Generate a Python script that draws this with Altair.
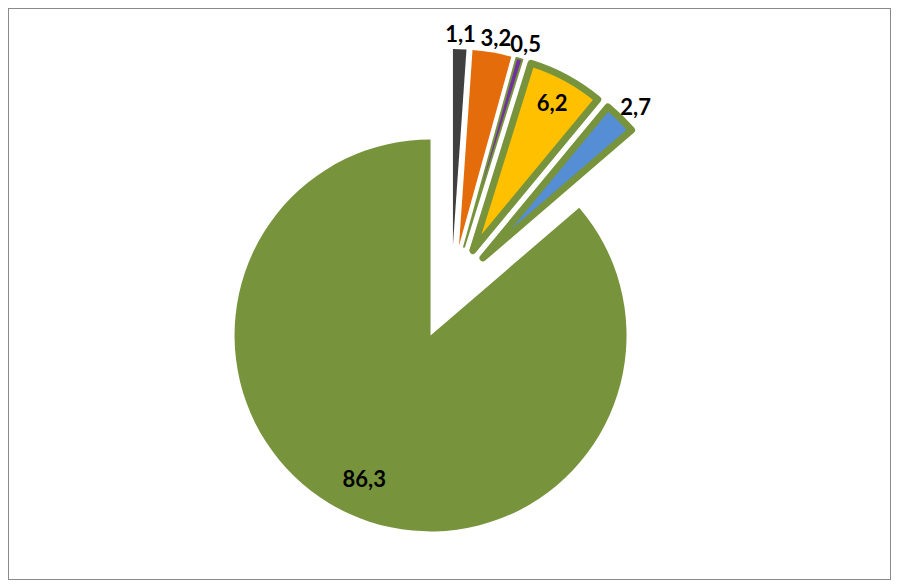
import altair as alt
import pandas as pd

# ---- data ----
labels = ["1,1", "3,2", "0,5", "6,2", "2,7", "86,3"]
values = [1.1, 3.2, 0.5, 6.2, 2.7, 86.3]

# ---- styles ----
colors = ["#404040", "#E46C0A", "#7030A0", "#FFC000", "#558ED5", "#77933C"]
stroke_widths = [0, 0, 2, 7, 7, 0]
OLIVE = "#77933C"

# ---- layout ----
W, H = 883, 572
CX, CY = 443.4, 282.0      # pie centre in plot coordinates
R = 196                    # pie radius
EX_SMALL, EX_BIG = 45, 50  # explosion distances
IN_BIG, IN_SMALL = 0.81 * R, 0.85 * R   # inside label radius
OUT_RX, OUT_RY = R + 22, R + 14         # outside label radii (x, y)

df = pd.DataFrame({"label": labels, "value": values, "idx": list(range(len(values)))})

base = alt.Chart(df).transform_joinaggregate(
    total="sum(value)"
).transform_window(
    cum="sum(value)", sort=[alt.SortField("idx")], frame=[None, 0]
).transform_calculate(
    t1="datum.cum / datum.total * 2 * PI",
    t0="(datum.cum - datum.value) / datum.total * 2 * PI",
    sw=f"{stroke_widths}[datum.idx]",
).transform_calculate(
    mid="(datum.t0 + datum.t1) / 2",
    ex=f"datum.value > 50 ? {EX_BIG} : {EX_SMALL}",
    rx=f"datum.value > 50 ? {IN_BIG} : (datum.value > 5 ? {IN_SMALL} : {OUT_RX})",
    ry=f"datum.value > 50 ? {IN_BIG} : (datum.value > 5 ? {IN_SMALL} : {OUT_RY})",
).transform_calculate(
    cx=f"{CX} + datum.ex * sin(datum.mid)",
    cy=f"{CY} - datum.ex * cos(datum.mid)",
).transform_calculate(
    lx="datum.cx + datum.rx * sin(datum.mid)",
    ly="datum.cy - datum.ry * cos(datum.mid)",
)

arcs = base.mark_arc(radius=R, stroke=OLIVE, strokeJoin="round").encode(
    x=alt.X("cx:Q", scale=None),
    y=alt.Y("cy:Q", scale=None),
    theta=alt.Theta("t0:Q", scale=None),
    theta2=alt.Theta2("t1:Q"),
    color=alt.Color("label:N", scale=alt.Scale(domain=labels, range=colors), legend=None),
    strokeWidth=alt.StrokeWidth("sw:Q", scale=None, legend=None),
)

texts = base.mark_text(
    font="Lato", fontWeight="bold", fontSize=22, color="#000000",
    align="center", baseline="middle",
).encode(
    x=alt.X("lx:Q", scale=None),
    y=alt.Y("ly:Q", scale=None),
    text="label:N",
)

chart = alt.layer(arcs, texts).properties(
    width=W, height=H, padding=0,
    autosize=alt.AutoSizeParams(type="none"),
    background="#ffffff",
).configure_view(stroke="#8a8a8a", strokeWidth=2)

chart.save("out.html", embed_options={"renderer": "svg", "actions": False})
